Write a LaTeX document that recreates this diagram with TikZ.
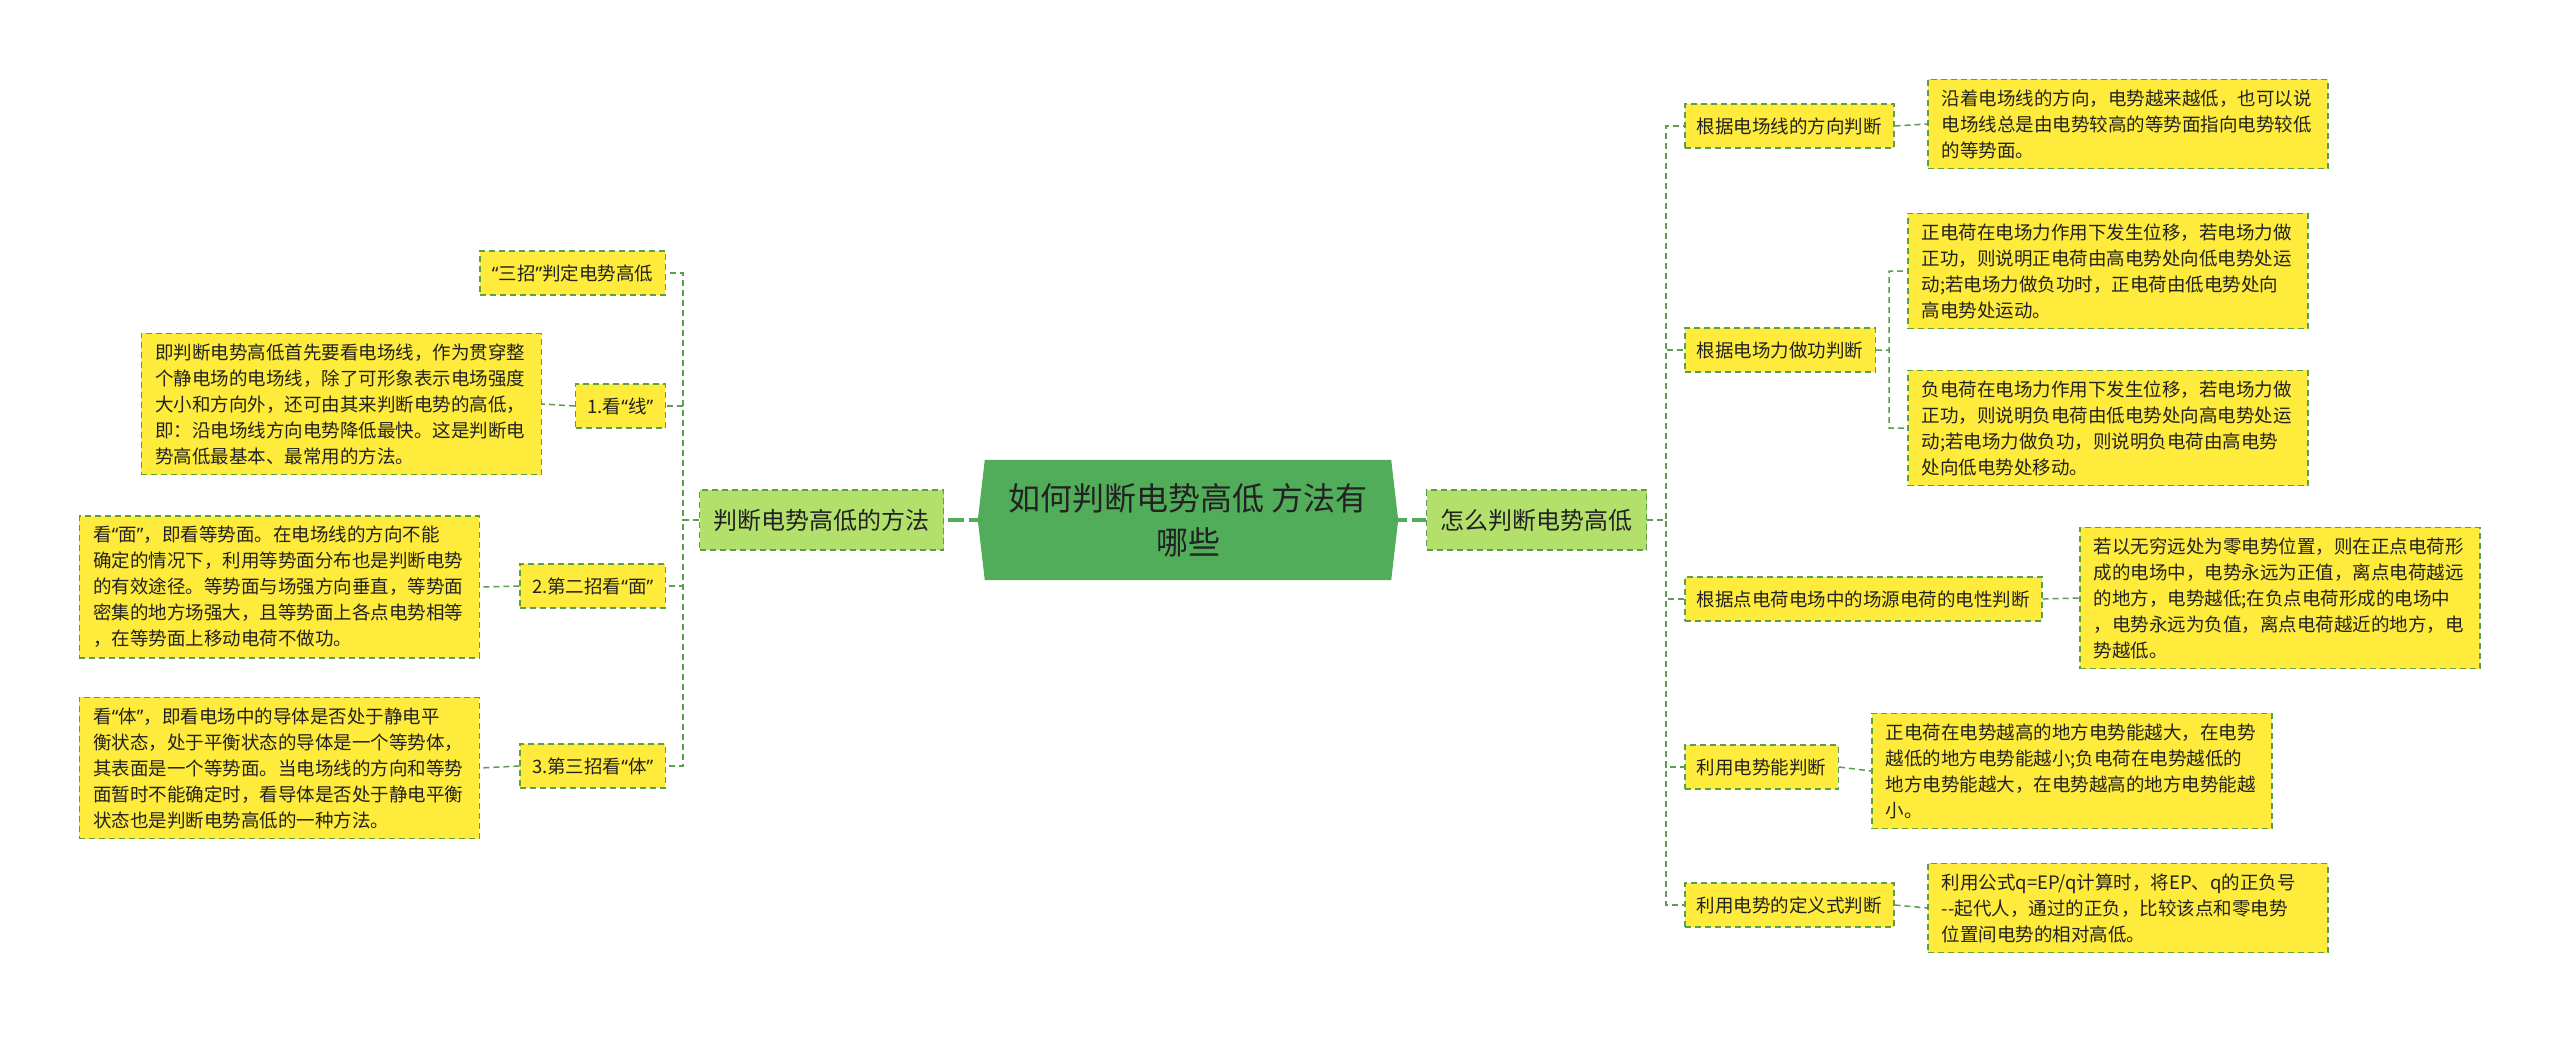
\documentclass[tikz,border=0pt]{standalone}
\usepackage{fontspec}
\setmainfont{Noto Sans CJK SC}
\newfontfamily\quotefont{Noto Sans}
\usetikzlibrary{positioning,backgrounds}
\definecolor{leafyellow}{HTML}{FFEB3B}
\definecolor{linegreen}{HTML}{5B9E4D}
\definecolor{mainfill}{HTML}{B2E06B}
\definecolor{rootfill}{HTML}{52AD5A}
\definecolor{inkgray}{HTML}{222222}
\tikzset{MAP style/.style={x=1pt,y=-1pt,text=inkgray,
	link/.style={draw=linegreen,line width=1.5pt,dash pattern=on 6pt off 4pt},
	trunk/.style={draw=rootfill,line width=3.5pt,dash pattern=on 16pt off 5pt}}}
\newcommand{\leaffont}{\fontsize{18.5}{26}\selectfont}
\newcommand{\lquo}{{\quotefont “}}
\newcommand{\rquo}{{\quotefont ”}}

\begin{document}
\begin{tikzpicture}[MAP style]
	\tikzstyle{box}=[draw=linegreen,fill=leafyellow,line width=1.5pt,
	dash pattern=on 6pt off 4pt,inner xsep=12pt,inner ysep=10pt,font=\leaffont]
	\tikzstyle{branch}=[box,minimum height=44pt]
	\tikzstyle{leaf}=[box,inner xsep=14pt,text width=372pt,align=left]
	\tikzstyle{main}=[draw=linegreen,fill=mainfill,line width=1.5pt,
	dash pattern=on 6pt off 4pt,inner xsep=14pt,minimum height=60pt,
	font=\fontsize{24}{30}\selectfont]

	\useasboundingbox (0,0) rectangle (2560,1042);

	% root
	\node[minimum width=406pt,minimum height=120pt,align=center,
	font=\fontsize{32}{44}\selectfont] (c) at (1188,520)
	{如何判断电势高低 方法有\\哪些};
	\begin{scope}[on background layer]
		\fill[white] (0,0) rectangle (2560,1042);
		\fill[rootfill] (c.north west) -- (c.north east) -- ([xshift=7pt]c.east)
		-- (c.south east) -- (c.south west) -- ([xshift=-7pt]c.west) -- cycle;
	\end{scope}

	\node[main] (l) at (821.5,520) {判断电势高低的方法};
	\node[main] (r) at (1536.5,520) {怎么判断电势高低};

	% left side
	\node[branch,anchor=east] (a0) at (666,273) {\lquo 三招\rquo 判定电势高低};
	\node[branch,anchor=east] (a1) at (666,406) {1.看\lquo 线\rquo};
	\node[branch,anchor=east] (a2) at (666,586) {2.第二招看\lquo 面\rquo};
	\node[branch,anchor=east] (a3) at (666,766) {3.第三招看\lquo 体\rquo};

	\node[leaf,anchor=east] (p1) at (542,404) {即判断电势高低首先要看电场线，作为贯穿整\\个静电场的电场线，除了可形象表示电场强度\\大小和方向外，还可由其来判断电势的高低，\\即：沿电场线方向电势降低最快。这是判断电\\势高低最基本、最常用的方法。};
	\node[leaf,anchor=east] (p2) at (480,587) {看\lquo 面\rquo，即看等势面。在电场线的方向不能\\确定的情况下，利用等势面分布也是判断电势\\的有效途径。等势面与场强方向垂直，等势面\\密集的地方场强大，且等势面上各点电势相等\\，在等势面上移动电荷不做功。};
	\node[leaf,anchor=east] (p3) at (480,768) {看\lquo 体\rquo，即看电场中的导体是否处于静电平\\衡状态，处于平衡状态的导体是一个等势体，\\其表面是一个等势面。当电场线的方向和等势\\面暂时不能确定时，看导体是否处于静电平衡\\状态也是判断电势高低的一种方法。};

	% right side
	\node[branch,anchor=west] (b1) at (1684,126) {根据电场线的方向判断};
	\node[branch,anchor=west] (b2) at (1684,350) {根据电场力做功判断};
	\node[branch,anchor=west] (b3) at (1684,599) {根据点电荷电场中的场源电荷的电性判断};
	\node[branch,anchor=west] (b4) at (1684,767) {利用电势能判断};
	\node[branch,anchor=west] (b5) at (1684,905) {利用电势的定义式判断};

	\node[leaf,anchor=west] (q1) at (1927,124) {沿着电场线的方向，电势越来越低，也可以说\\电场线总是由电势较高的等势面指向电势较低\\的等势面。};
	\node[leaf,anchor=west] (q2) at (1907,271) {正电荷在电场力作用下发生位移，若电场力做\\正功，则说明正电荷由高电势处向低电势处运\\动;若电场力做负功时，正电荷由低电势处向\\高电势处运动。};
	\node[leaf,anchor=west] (q3) at (1907,428) {负电荷在电场力作用下发生位移，若电场力做\\正功，则说明负电荷由低电势处向高电势处运\\动;若电场力做负功，则说明负电荷由高电势\\处向低电势处移动。};
	\node[leaf,anchor=west] (q4) at (2079,598) {若以无穷远处为零电势位置，则在正点电荷形\\成的电场中，电势永远为正值，离点电荷越远\\的地方，电势越低;在负点电荷形成的电场中\\，电势永远为负值，离点电荷越近的地方，电\\势越低。};
	\node[leaf,anchor=west] (q5) at (1871,771) {正电荷在电势越高的地方电势能越大，在电势\\越低的地方电势能越小;负电荷在电势越低的\\地方电势能越大，在电势越高的地方电势能越\\小。};
	\node[leaf,anchor=west] (q6) at (1927,908) {利用公式q=EP/q计算时，将EP、q的正负号\\-{}-起代人，通过的正负，比较该点和零电势\\位置间电势的相对高低。};

	\coordinate (lj) at (683,520);
	\coordinate (rj) at (1666,520);
	\coordinate (bj) at (1889,350);

	\path[trunk] (c.west) -- (l.east) (c.east) -- (r.west);
	\path[link]
	(l.west) -- (lj) |- (a0.east)
	(l.west) -- (lj) |- (a1.east)
	(l.west) -- (lj) |- (a2.east)
	(l.west) -- (lj) |- (a3.east)
	(r.east) -- (rj) |- (b1.west)
	(r.east) -- (rj) |- (b2.west)
	(r.east) -- (rj) |- (b3.west)
	(r.east) -- (rj) |- (b4.west)
	(r.east) -- (rj) |- (b5.west)
	;
	\path[link]
	(a1.west) -- (p1.east)
	(a2.west) -- (p2.east)
	(a3.west) -- (p3.east)
	(b1.east) -- (q1.west)
	(b2.east) -- (bj) |- (q2.west)
	(b2.east) -- (bj) |- (q3.west)
	(b3.east) -- (q4.west)
	(b4.east) -- (q5.west)
	(b5.east) -- (q6.west)
	;
\end{tikzpicture}
\end{document}
